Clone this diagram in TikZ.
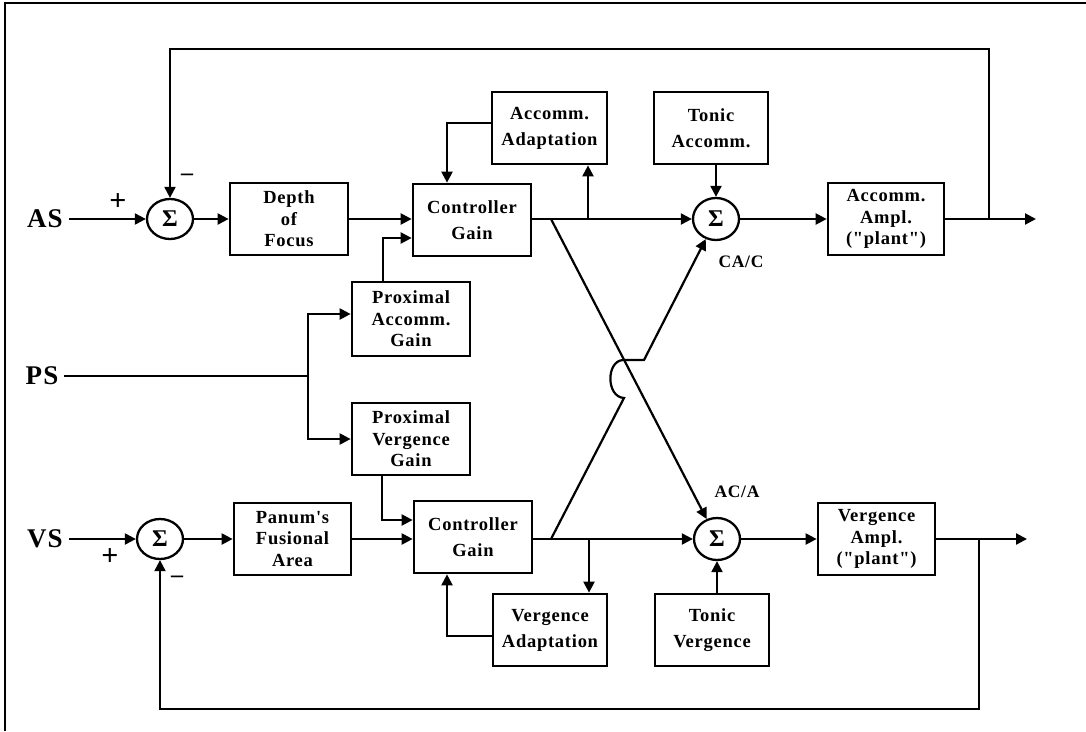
\documentclass[tikz,border=0pt]{standalone}
\usepackage{fontspec}
\setmainfont{Liberation Serif}
\newfontfamily\boxfont[LetterSpace=4]{Liberation Serif}
\usetikzlibrary{arrows.meta,shapes.geometric,calc}
\begin{document}
\begin{tikzpicture}[x=1pt,y=-1pt,
  box/.style={draw, line width=2.7pt, inner sep=0pt, align=center, minimum width=118pt, minimum height=72pt, font=\boxfont\bfseries\fontsize{18.5}{21.5}\selectfont},
  twoline/.style={font=\boxfont\bfseries\fontsize{18.5}{26}\selectfont},
  sumnode/.style={draw, ellipse, line width=2.3pt, minimum width=46pt, minimum height=40pt, inner sep=0pt, font=\bfseries\fontsize{24}{24}\selectfont},
  sig/.style={font=\bfseries\fontsize{30}{30}\selectfont, inner sep=0pt},
  msig/.style={font=\bfseries\fontsize{24}{24}\selectfont, inner sep=0pt},
  lbl/.style={font=\boxfont\bfseries\fontsize{17.5}{17.5}\selectfont, inner sep=0pt},
  io/.style={font=\boxfont\bfseries\fontsize{27}{27}\selectfont, inner sep=0pt},
  conn/.style={line width=2.2pt},
  arr/.style={conn, -{Triangle[length=11pt,width=11pt]}},
  frameline/.style={line width=1.8pt}]
\fill[white] (0,0) rectangle (1086,731);
\useasboundingbox (0,0) rectangle (1086,731);
\draw[frameline] (5,731) -- (5,3) -- (1086,3);

% top row
\node[io] (AS) at (45,219) {AS};
\node[sumnode] (sA) at (170,219) {Σ};
\node[box] (DoF) at (289,219) {Depth\\of\\Focus};
\node[box,twoline] (CA) at (472,220) {Controller\\Gain};
\node[box,twoline,minimum width=115pt,minimum height=72pt] (AAd) at (549.5,128) {Accomm.\\Adaptation};
\node[box,twoline,minimum width=114pt,minimum height=72pt] (TA) at (711,128) {Tonic\\Accomm.};
\node[sumnode,minimum height=42pt] (sCA) at (716,219) {Σ};
\node[box,minimum width=116pt] (AAmp) at (886,219) {Accomm.\\Ampl.\\("plant")};
\node[lbl] (lCAC) at (741,262) {CA/C};

% middle
\node[io] (PS) at (42,376) {PS};
\node[box,minimum height=74pt] (PAG) at (411,319) {Proximal\\Accomm.\\Gain};
\node[box] (PVG) at (411,439) {Proximal\\Vergence\\Gain};

% bottom row
\node[io] (VS) at (45,539) {VS};
\node[sumnode] (sV) at (160,539) {Σ};
\node[box,minimum width=117pt] (PFA) at (292.5,539) {Panum's\\Fusional\\Area};
\node[box,twoline] (CV) at (473,537) {Controller\\Gain};
\node[box,twoline,minimum width=114pt] (VAd) at (550,630) {Vergence\\Adaptation};
\node[box,twoline,minimum width=114pt] (TV) at (712,630) {Tonic\\Vergence};
\node[sumnode,minimum height=42pt] (sAC) at (717,539) {Σ};
\node[box,minimum width=117pt] (VAmp) at (876.5,539) {Vergence\\Ampl.\\("plant")};
\node[lbl] (lACA) at (737,492) {AC/A};

% signs
\node[sig] (pA) at (118,202) {+};
\node[msig] (mA) at (187,177) {–};
\node[sig] (pV) at (110,557) {+};
\node[msig] (mV) at (177,579) {–};

% coordinates
\coordinate (jA) at (989,219);
\coordinate (fbA) at (989,49);
\coordinate (outA) at (1036,219);
\coordinate (bA) at (588,219);
\coordinate (psj) at (308,376);
\coordinate (jV) at (979,539);
\coordinate (fbV) at (979,709);
\coordinate (outV) at (1027,539);
\coordinate (bV) at (589,539);
\coordinate (xA) at (551,219);
\coordinate (xV) at (551,539);
\coordinate (h1) at (624,398);
\coordinate (h2) at (623,360);
\coordinate (h3) at (644,360);

% top connectors
\draw[arr] ([xshift=6pt]AS.east) -- (sA.west);
\draw[arr] (sA.east) -- (DoF.west);
\draw[arr] (DoF.east) -- (DoF.east -| CA.west);
\draw[arr] (jA) -- (fbA) -| (sA.north);
\draw[arr] ([xshift=-28pt]PAG.north) |- ([yshift=-18pt]CA.west);
\draw[arr] ([yshift=5pt]AAd.west) -| ([xshift=-25pt]CA.north);
\draw[arr] (CA.east |- sCA.west) -- (sCA.west);
\draw[arr] (bA) -- (bA |- AAd.south);
\draw[arr] (sCA.north |- TA.south) -- (sCA.north);
\draw[arr] (sCA.east) -- (AAmp.west);
\draw[arr] (AAmp.east) -- (outA);

% PS
\draw[conn] ([xshift=6pt]PS.east) -- (psj);
\draw[arr] (psj) |- ([yshift=5pt]PAG.west);
\draw[arr] (psj) |- (PVG.west);

% bottom connectors
\draw[arr] ([xshift=6pt]VS.east) -- (sV.west);
\draw[arr] (sV.east) -- (PFA.west);
\draw[arr] (PFA.east) -- (PFA.east -| CV.west);
\draw[arr] ([xshift=-29pt]PVG.south) |- ([yshift=17pt]CV.west);
\draw[arr] ([yshift=-6pt]VAd.west) -| ([xshift=-26pt]CV.south);
\draw[arr] (CV.east |- sAC.west) -- (sAC.west);
\draw[arr] (bV) -- (bV |- VAd.north);
\draw[arr] (sAC.south |- TV.north) -- (sAC.south);
\draw[arr] (sAC.east) -- (VAmp.west);
\draw[arr] (VAmp.east) -- (outV);
\draw[arr] (jV) -- (fbV) -| (sV.south);

% cross connections
\draw[arr] (xA) -- (sAC);
\draw[arr] (xV) -- (h1) .. controls (606,397) and (606,361) .. (h2) -- (h3) -- (sCA);
\end{tikzpicture}
\end{document}
